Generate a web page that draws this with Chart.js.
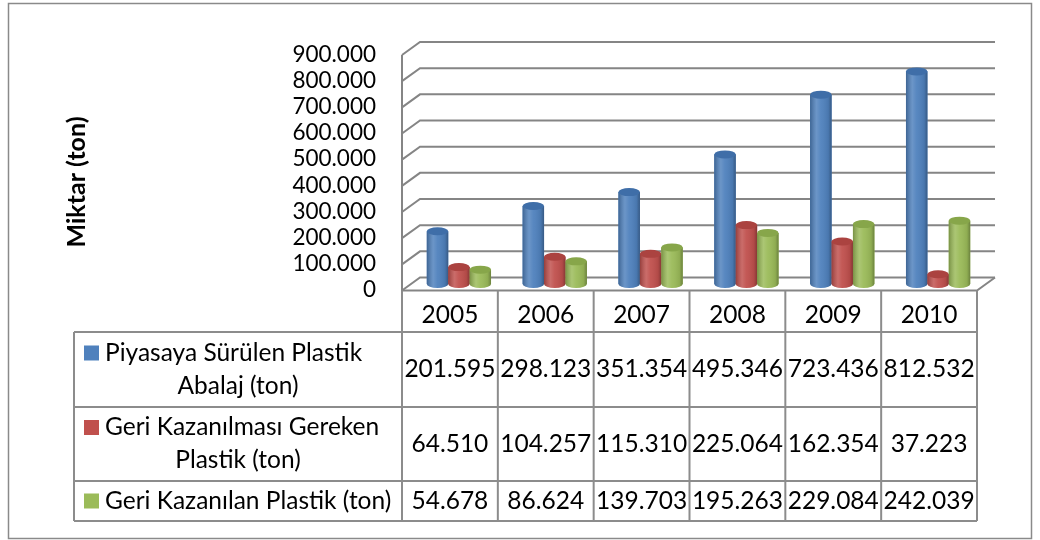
<!DOCTYPE html>
<html>
<head>
<meta charset="utf-8">
<script src="https://cdn.jsdelivr.net/npm/chart.js@4/dist/chart.umd.min.js"></script>
<style>
  html, body { margin: 0; padding: 0; background: #ffffff; }
  canvas { display: block; }
</style>
</head>
<body>
<canvas id="plastikChart" width="1040" height="540"></canvas>
<script>
// values (ton)
const years = ['2005', '2006', '2007', '2008', '2009', '2010'];
const piyasaya = [201595, 298123, 351354, 495346, 723436, 812532];
const gereken = [64510, 104257, 115310, 225064, 162354, 37223];
const kazanilan = [54678, 86624, 139703, 195263, 229084, 242039];
const seriesLines = [
  ['Piyasaya Sürülen Plastik', 'Abalaj (ton)'],
  ['Geri Kazanılması Gereken', 'Plastik (ton)'],
  ['Geri Kazanılan Plastik (ton)']
];
const yMax = 900000;
const yStep = 100000;
const yTitle = 'Miktar (ton)';

const colors = ['#4f81bd', '#c0504d', '#9bbb59'];
const topColors = ['#3f6ea8', '#ab4340', '#87a64a'];
const lineGray = '#8c8c8c';
const FONT = 'Lato, "Open Sans", sans-serif';
const DX = 9, DY = 6.5; // half depth of the 3d box

function fmt(v) {
  return String(v).replace(/\B(?=(\d{3})+(?!\d))/g, '.');
}

const box3d = {
  id: 'box3d',
  beforeDatasetsDraw(chart) {
    const { ctx, chartArea } = chart;
    const y = chart.scales.y;
    const xf = chartArea.left - DX, xb = chartArea.left + DX;
    const xr = chartArea.right + DX;
    ctx.save();
    ctx.strokeStyle = '#858585';
    ctx.lineWidth = 2;
    for (let v = 0; v <= yMax; v += yStep) {
      const ym = y.getPixelForValue(v);
      ctx.beginPath();
      ctx.moveTo(xf, ym + DY);
      ctx.lineTo(xb, ym - DY);
      ctx.lineTo(xr, ym - DY);
      ctx.stroke();
    }
    // left edge and floor front
    const y0 = y.getPixelForValue(0), yTop = y.getPixelForValue(yMax);
    ctx.beginPath();
    ctx.moveTo(xf, yTop + DY);
    ctx.lineTo(xf, y0 + DY);
    ctx.lineTo(chartArea.right - DX, y0 + DY);
    ctx.lineTo(xr, y0 - DY);
    ctx.stroke();
    ctx.restore();
  },
  afterDatasetsDraw(chart) {
    const { ctx } = chart;
    ctx.save();
    chart.data.datasets.forEach((ds, di) => {
      const meta = chart.getDatasetMeta(di);
      meta.data.forEach(el => {
        const p = el.getProps(['x', 'y', 'base', 'width'], true);
        const rx = p.width / 2, ry = 4;
        const l = p.x - rx, r = p.x + rx;
        ctx.beginPath();
        ctx.moveTo(l, p.y);
        ctx.lineTo(l, p.base);
        ctx.ellipse(p.x, p.base, rx, ry, 0, Math.PI, 0, true);
        ctx.lineTo(r, p.y);
        ctx.closePath();
        ctx.fillStyle = colors[di];
        ctx.fill();
        const g = ctx.createLinearGradient(l, 0, r, 0);
        g.addColorStop(0, 'rgba(0,0,0,0.22)');
        g.addColorStop(0.3, 'rgba(255,255,255,0.16)');
        g.addColorStop(0.5, 'rgba(255,255,255,0.05)');
        g.addColorStop(0.85, 'rgba(0,0,0,0.08)');
        g.addColorStop(1, 'rgba(0,0,0,0.3)');
        ctx.fillStyle = g;
        ctx.fill();
        ctx.beginPath();
        ctx.ellipse(p.x, p.y, rx, ry, 0, 0, Math.PI * 2);
        ctx.fillStyle = topColors[di];
        ctx.fill();
      });
    });
    ctx.restore();
  },
  afterDraw(chart) {
    const { ctx, chartArea } = chart;
    const x = chart.scales.x;
    const y0 = chart.scales.y.getPixelForValue(0) + DY;
    const colW = (chartArea.right - chartArea.left) / years.length;
    const tblLeft = 74, firstCol = chartArea.left - DX;
    const lastCol = chartArea.right - DX;
    const rows = [y0, 332, 407, 481, 521];

    ctx.save();
    // outer frame
    ctx.strokeStyle = '#8a8a8a';
    ctx.lineWidth = 1.5;
    ctx.strokeRect(8.5, 3.5, 1023, 535);

    // table grid
    ctx.strokeStyle = lineGray;
    ctx.lineWidth = 2;
    ctx.beginPath();
    for (let i = 1; i < rows.length; i++) {
      ctx.moveTo(tblLeft, rows[i]);
      ctx.lineTo(lastCol, rows[i]);
    }
    ctx.moveTo(tblLeft, rows[1]);
    ctx.lineTo(tblLeft, rows[4]);
    for (let i = 0; i <= years.length; i++) {
      const cx = firstCol + i * colW;
      ctx.moveTo(cx, rows[0]);
      ctx.lineTo(cx, rows[4]);
    }
    ctx.stroke();

    ctx.fillStyle = '#000000';
    ctx.font = '24.5px ' + FONT;
    ctx.textAlign = 'center';
    ctx.textBaseline = 'middle';
    const series = [piyasaya, gereken, kazanilan];
    years.forEach((yr, i) => {
      const cx = x.getPixelForValue(i) - DX;
      ctx.fillText(yr, cx, 315);
      series.forEach((vals, si) => {
        ctx.fillText(fmt(vals[i]), cx, (rows[si + 1] + rows[si + 2]) / 2);
      });
    });

    // legend cells: first line starts at the key square, second line centred
    const legCx = (tblLeft + firstCol) / 2;
    seriesLines.forEach((lines, si) => {
      const mid = (rows[si + 1] + rows[si + 2]) / 2;
      const lh = 33;
      lines.forEach((txt, li) => {
        const ly = mid + (li - (lines.length - 1) / 2) * lh;
        if (li === 0) {
          ctx.fillStyle = colors[si];
          ctx.fillRect(84, ly - 7.5, 15, 15);
          ctx.fillStyle = '#000000';
          ctx.textAlign = 'left';
          ctx.fillText(txt, 105, ly);
          ctx.textAlign = 'center';
        } else {
          ctx.fillText(txt, legCx, ly);
        }
      });
    });

    // axis title
    ctx.translate(77, 182);
    ctx.rotate(-Math.PI / 2);
    ctx.font = 'bold 25px ' + FONT;
    ctx.fillText(yTitle, 0, 0);
    ctx.restore();
  }
};

new Chart(document.getElementById('plastikChart'), {
  type: 'bar',
  data: {
    labels: years,
    datasets: [
      { label: seriesLines[0].join(' '), data: piyasaya, backgroundColor: colors[0] },
      { label: seriesLines[1].join(' '), data: gereken, backgroundColor: colors[1] },
      { label: seriesLines[2].join(' '), data: kazanilan, backgroundColor: colors[2] }
    ]
  },
  options: {
    responsive: false,
    animation: false,
    layout: { padding: { left: 0, right: 54, top: 46, bottom: 256 } },
    datasets: {
      bar: { categoryPercentage: 0.67, barPercentage: 1.0, borderWidth: 0 }
    },
    plugins: {
      legend: { display: false },
      tooltip: { enabled: false }
    },
    scales: {
      x: { display: false },
      y: {
        min: 0,
        max: yMax,
        afterFit: s => { s.width = 411; },
        grid: { display: false, drawTicks: false },
        border: { display: false },
        ticks: {
          stepSize: yStep,
          autoSkip: false,
          padding: 35,
          labelOffset: 6,
          color: '#000000',
          font: { family: FONT, size: 22.5 },
          callback: v => fmt(v)
        }
      }
    }
  },
  plugins: [box3d]
});
</script>
</body>
</html>
